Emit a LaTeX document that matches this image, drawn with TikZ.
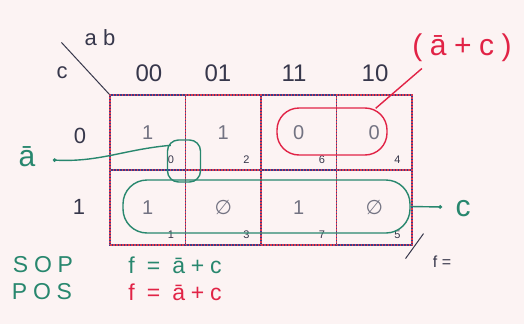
\documentclass[tikz,border=0pt]{standalone}
\usepackage{fontspec}
\setmainfont{Liberation Sans}
\newfontfamily\hand{Liberation Sans}[LetterSpace=25]
\newfontfamily\symb{DejaVu Sans}
\usetikzlibrary{arrows.meta}
\definecolor{paper}{RGB}{252,243,243}
\definecolor{ink}{RGB}{55,55,75}
\definecolor{valgray}{RGB}{115,115,130}
\definecolor{pen}{RGB}{40,135,110}
\definecolor{redpen}{RGB}{225,35,70}
\definecolor{gridblue}{RGB}{60,60,140}
\definecolor{gridred}{RGB}{220,60,80}

\begin{document}
\begin{tikzpicture}[x=1pt,y=-1pt,
cell/.style={draw=gridblue,line width=1.1pt,minimum width=75.5pt,minimum height=75pt,inner sep=0pt,
  font=\fontsize{20}{20}\selectfont,text=valgray,
  postaction={draw=gridred,dash pattern=on 1.5pt off 1.5pt,line width=1.1pt}},
idx/.style={font=\fontsize{11}{11}\selectfont,text=ink,inner sep=0pt},
lbl/.style={font=\fontsize{22}{22}\selectfont,text=ink},
hdr/.style={font=\fontsize{24}{24}\selectfont,text=ink},
hw/.style={font=\hand\fontsize{23}{23}\selectfont},
big/.style={font=\fontsize{30}{30}\selectfont},
gloop/.style={draw=pen,line width=1.4pt,inner sep=0pt},
rloop/.style={draw=redpen,line width=1.4pt,inner sep=0pt},
gline/.style={draw=pen,line width=1.4pt},
rline/.style={draw=redpen,line width=1.4pt}]
\fill[paper] (0,0) rectangle (524,324);
\useasboundingbox (0,0) rectangle (524,324);
% map
\node[cell] (m0) at (147.75,132.5) {1};
\node[cell] (m2) at (223.25,132.5) {1};
\node[cell] (m6) at (298.75,132.5) {0};
\node[cell] (m4) at (374.25,132.5) {0};
\node[cell] (m1) at (147.75,207.5) {1};
\node[cell] (m3) at (223.25,207.5) {\symb ∅};
\node[cell] (m7) at (298.75,207.5) {1};
\node[cell] (m5) at (374.25,207.5) {\symb ∅};
\foreach \k in {0,...,7}
  \node[idx] at ([shift={(-15,-11)}]m\k.south east) {\k};
% variables
\node[lbl] (ab) at (100,38) {a b};
\node[lbl] (cvar) at (62,73) {c};
\draw[ink,line width=1pt] (m0.north west) -- ++(-48,-52);
\node[hdr] (h00) at (149,73) {00};
\node[hdr] (h01) at (218,73) {01};
\node[hdr] (h11) at (294,73) {11};
\node[hdr] (h10) at (375,73) {10};
\node[lbl] (r0) at (80,136) {0};
\node[lbl] (r1) at (79,207) {1};
% green groups
\node[gloop,minimum width=33pt,minimum height=42pt,rounded corners=11pt] (near) at (184,161) {};
\node[gloop,minimum width=287pt,minimum height=53pt,rounded corners=24pt] (row1) at (266.5,206.5) {};
\node[big,text=pen] (abar) at (27,157) {ā};
\node[big,text=pen] (cout) at (463,209) {c};
\draw[gline,{Circle[length=3.5pt]}-] ([shift={(14,3)}]abar.east) to[out=-3,in=185] ([shift={(4,6)}]near.north west);
\draw[gline,-{Circle[length=3.5pt]}] (row1.east) -- ([shift={(-10,-2)}]cout.west);
% red group
\node[rloop,minimum width=110pt,minimum height=47pt,rounded corners=22pt] (pair) at (332,131.5) {};
\node[font=\hand\fontsize{30}{30}\selectfont,text=redpen] (sum) at (462,48) {(ā+c)};
\draw[rline] ([shift={(-12,1)}]pair.north east) -- ([shift={(13,3)}]sum.south west);
% output
\node[font=\fontsize{16}{16}\selectfont,text=ink] (feq) at (442,262) {f =};
\draw[ink,line width=1pt] ([shift={(-7,13)}]m5.south east) -- ([shift={(11,-12)}]m5.south east);
% results
\node[hw,text=pen] (sop) at (43,265) {SOP};
\node[hw,text=pen] (sopf) at (175,265) {f = ā+c};
\node[hw,text=pen] (pos) at (42,292) {POS};
\node[hw,text=redpen] (posf) at (175,292) {f = ā+c};
\end{tikzpicture}
\end{document}
